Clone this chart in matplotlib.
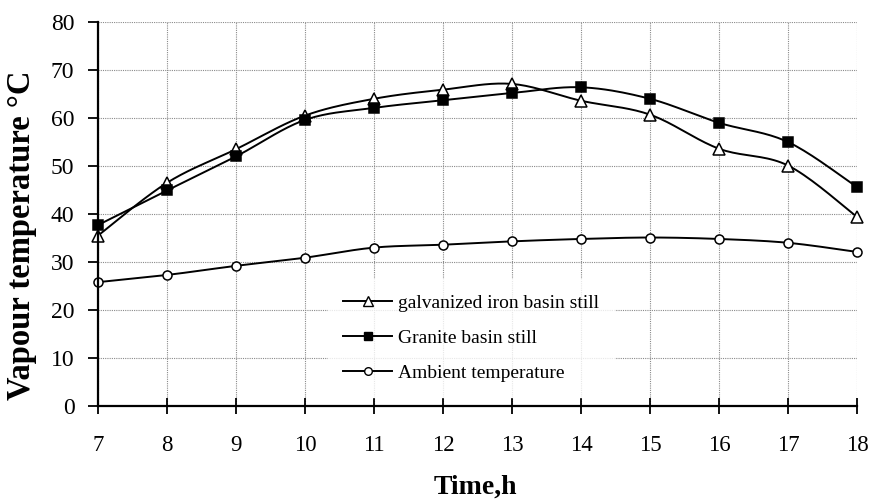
import numpy as np
import matplotlib
matplotlib.use("Agg")
import matplotlib.pyplot as plt

# Data
hours = [7, 8, 9, 10, 11, 12, 13, 14, 15, 16, 17, 18]
galvanized = [35.5, 46.5, 53.5, 60.5, 64.0, 65.9, 67.1, 63.6, 60.7, 53.6, 50.1, 39.4]
granite = [37.7, 44.9, 52.0, 59.6, 62.1, 63.7, 65.2, 66.4, 64.0, 59.0, 55.0, 45.6]
ambient = [25.8, 27.3, 29.2, 30.9, 33.0, 33.6, 34.3, 34.8, 35.1, 34.8, 34.0, 32.1]

labels = ["galvanized iron basin still", "Granite basin still", "Ambient temperature"]


def smooth(x, y, n=20):
    # bezier smoothing like a spreadsheet "smoothed line"
    x = np.asarray(x, float)
    y = np.asarray(y, float)
    pts = np.column_stack([x, y])
    out = []
    for i in range(len(pts) - 1):
        p0 = pts[i - 1] if i > 0 else pts[i]
        p1 = pts[i]
        p2 = pts[i + 1]
        p3 = pts[i + 2] if i + 2 < len(pts) else pts[i + 1]
        c1 = p1 + (p2 - p0) / 6.0
        c2 = p2 - (p3 - p1) / 6.0
        t = np.linspace(0, 1, n, endpoint=(i == len(pts) - 2))[:, None]
        seg = ((1 - t) ** 3) * p1 + 3 * ((1 - t) ** 2) * t * c1 \
            + 3 * (1 - t) * (t ** 2) * c2 + (t ** 3) * p2
        out.append(seg)
    out = np.vstack(out)
    return out[:, 0], out[:, 1]


plt.rcParams['font.family'] = ['Liberation Serif', 'DejaVu Serif']

fig = plt.figure(figsize=(8.73, 5.01), dpi=100)
ax = fig.add_axes([98 / 873, 1 - 406 / 501, (857 - 98) / 873, (406 - 22) / 501])

series = [
    (galvanized, '^', 'white', 8, 6.5),
    (granite, 's', 'black', 7.2, 5.5),
    (ambient, 'o', 'white', 6.5, 5.5),
]

handles = []
for (vals, mk, fc, ms, lms), lab in zip(series, labels):
    sx, sy = smooth(hours, vals)
    ax.plot(sx, sy, color='black', lw=1.4, zorder=3)
    ax.plot(hours, vals, linestyle='none', marker=mk, markersize=ms,
            markerfacecolor=fc, markeredgecolor='black', markeredgewidth=1.1,
            zorder=4, clip_on=False)
    h, = ax.plot([], [], color='black', lw=1.4, marker=mk, markersize=lms,
                 markerfacecolor=fc, markeredgecolor='black', markeredgewidth=1.0)
    handles.append(h)

ax.set_xlim(7, 18)
ax.set_ylim(0, 80)
ax.set_xticks(hours)
ax.set_yticks(np.arange(0, 81, 10))

ax.grid(True, color='#8a8a8a', linestyle=(0, (1, 1)), linewidth=0.8, zorder=0)
ax.set_axisbelow(True)

for s in ['top', 'right']:
    ax.spines[s].set_visible(False)
for s in ['left', 'bottom']:
    ax.spines[s].set_linewidth(1.6)
    ax.spines[s].set_zorder(5)

ax.tick_params(axis='y', direction='out', length=7, width=1.3, labelsize=17, pad=10)
ax.tick_params(axis='x', direction='inout', length=12, width=1.3, labelsize=16.5, pad=15)

ax.set_xlabel('Time,h', fontsize=20, fontweight='bold')
ax.xaxis.set_label_coords((475 - 98) / 759, (406 - 487) / 384)
ax.xaxis.label.set_va('center')
ax.set_ylabel('Vapour temperature \u00b0C', fontsize=23.5, fontweight='bold')
ax.yaxis.set_label_coords((22 - 98) / 759, (406 - 235) / 384)
ax.yaxis.label.set_va('center')

leg = ax.legend(handles, labels, loc='center left',
                bbox_to_anchor=((318 - 98) / 759, (406 - 338) / 384),
                frameon=True, fontsize=14, handlelength=2.5, handletextpad=0.3,
                labelspacing=0.9, borderpad=0.8, fancybox=False)
leg.get_frame().set_facecolor('white')
leg.get_frame().set_edgecolor('white')
leg.set_zorder(2)

fig.savefig('out.png', dpi=100)
